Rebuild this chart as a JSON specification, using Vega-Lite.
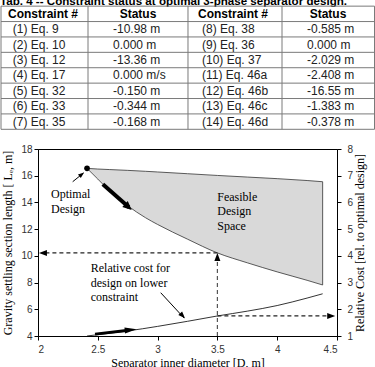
{
  "$schema": "https://vega.github.io/schema/vega-lite/v6.json",
  "width": 299,
  "height": 187,
  "autosize": {"type": "none"},
  "padding": {"left": 38, "top": 149, "right": 38, "bottom": 31},
  "background": "white",
  "config": {
    "view": {"stroke": "black", "strokeWidth": 1},
    "axis": {
      "grid": false,
      "domainColor": "black",
      "tickColor": "black",
      "tickSize": 4,
      "labelFont": "Liberation Sans",
      "labelFontSize": 10,
      "labelColor": "#333333",
      "titleFont": "Liberation Serif",
      "titleFontSize": 12,
      "titleFontWeight": "normal",
      "titleColor": "black"
    },
    "text": {"font": "Liberation Serif", "fontSize": 12, "color": "black"}
  },
  "datasets": {
    "region": [
      {"D": 2.41, "upper": 16.55, "lower": 16.55},
      {"D": 2.5, "upper": 16.5, "lower": 15.75},
      {"D": 2.6, "upper": 16.46, "lower": 14.85},
      {"D": 2.75, "upper": 16.4, "lower": 13.75},
      {"D": 2.9, "upper": 16.33, "lower": 12.85},
      {"D": 3.0, "upper": 16.28, "lower": 12.35},
      {"D": 3.25, "upper": 16.15, "lower": 11.25},
      {"D": 3.5, "upper": 16.02, "lower": 10.22},
      {"D": 3.75, "upper": 15.9, "lower": 9.48},
      {"D": 4.0, "upper": 15.78, "lower": 8.8},
      {"D": 4.25, "upper": 15.64, "lower": 8.17},
      {"D": 4.38, "upper": 15.55, "lower": 7.82}
    ],
    "cost": [
      {"D": 2.41, "cost": 1.0},
      {"D": 2.5, "cost": 1.05},
      {"D": 2.75, "cost": 1.19},
      {"D": 3.0, "cost": 1.36},
      {"D": 3.25, "cost": 1.55},
      {"D": 3.5, "cost": 1.75},
      {"D": 3.75, "cost": 1.93},
      {"D": 4.0, "cost": 2.14},
      {"D": 4.25, "cost": 2.42},
      {"D": 4.38, "cost": 2.58}
    ],
    "optimum": [{"D": 2.41, "L": 16.55}],
    "notes": [
      {"D": 2.109, "L": 14.61, "label": "Optimal"},
      {"D": 2.109, "L": 13.51, "label": "Design"},
      {"D": 3.499, "L": 14.43, "label": "Feasible"},
      {"D": 3.499, "L": 13.36, "label": "Design"},
      {"D": 3.499, "L": 12.26, "label": "Space"},
      {"D": 2.441, "L": 9.11, "label": "Relative cost for"},
      {"D": 2.441, "L": 7.99, "label": "design on lower"},
      {"D": 2.441, "L": 6.94, "label": "constraint"}
    ],
    "caption": [{"label": "Tab. 4 -- Constraint status at optimal 3-phase separator design."}],
    "header": [{"row": 0, "c1": "Constraint #", "s1": "Status", "c2": "Constraint #", "s2": "Status"}],
    "constraints": [
      {"row": 1, "c1": "(1) Eq. 9", "s1": "-10.98 m", "c2": "(8) Eq. 38", "s2": "-0.585 m"},
      {"row": 2, "c1": "(2) Eq. 10", "s1": "0.000 m", "c2": "(9) Eq. 36", "s2": "0.000 m"},
      {"row": 3, "c1": "(3) Eq. 12", "s1": "-13.36 m", "c2": "(10) Eq. 37", "s2": "-2.029 m"},
      {"row": 4, "c1": "(4) Eq. 17", "s1": "0.000 m/s", "c2": "(11) Eq. 46a", "s2": "-2.408 m"},
      {"row": 5, "c1": "(5) Eq. 32", "s1": "-0.150 m", "c2": "(12) Eq. 46b", "s2": "-16.55 m"},
      {"row": 6, "c1": "(6) Eq. 33", "s1": "-0.344 m", "c2": "(13) Eq. 46c", "s2": "-1.383 m"},
      {"row": 7, "c1": "(7) Eq. 35", "s1": "-0.168 m", "c2": "(14) Eq. 46d", "s2": "-0.378 m"}
    ]
  },
  "resolve": {"scale": {"x": "independent", "y": "independent"}},
  "layer": [
    {
      "resolve": {"scale": {"y": "independent"}},
      "layer": [
        {
          "layer": [
            {
              "data": {"name": "region"},
              "mark": {"type": "area", "interpolate": "monotone", "fill": "#d9d9d9", "stroke": "#333333", "strokeWidth": 0.8},
              "encoding": {
                "x": {
                  "field": "D", "type": "quantitative",
                  "scale": {"domain": [2, 4.5], "nice": false, "zero": false},
                  "axis": {"orient": "bottom", "values": [2, 2.5, 3, 3.5, 4, 4.5], "tickCount": 20, "format": "~g", "labelOverlap": false, "labelPadding": 4, "titlePadding": 3, "title": "Separator inner diameter [D, m]"}
                },
                "y": {
                  "field": "upper", "type": "quantitative",
                  "scale": {"domain": [4, 18], "nice": false, "zero": false},
                  "axis": {"orient": "left", "values": [4, 6, 8, 10, 12, 14, 16, 18], "tickCount": 20, "format": "~g", "labelOverlap": false, "labelPadding": 2, "titlePadding": 6, "title": "Gravity settling section length [ Lₑ, m]"}
                },
                "y2": {"field": "lower"}
              }
            },
            {
              "data": {"values": [{"D": 3.5, "D2": 2.06, "L": 10.22}]},
              "mark": {"type": "rule", "strokeDash": [4, 3], "color": "#222222", "strokeWidth": 1.2},
              "encoding": {
                "x": {"field": "D", "type": "quantitative"},
                "x2": {"field": "D2"},
                "y": {"field": "L", "type": "quantitative"}
              }
            },
            {
              "data": {"values": [{"D": 3.5, "L": 4, "L2": 9.75}]},
              "mark": {"type": "rule", "strokeDash": [4, 3], "color": "#555555", "strokeWidth": 1.2},
              "encoding": {
                "x": {"field": "D", "type": "quantitative"},
                "y": {"field": "L", "type": "quantitative"},
                "y2": {"field": "L2"}
              }
            },
            {
              "data": {"values": [{"D": 2.29, "L": 15.55, "D2": 2.38, "L2": 16.2}]},
              "mark": {"type": "rule", "color": "black", "strokeWidth": 1},
              "encoding": {
                "x": {"field": "D", "type": "quantitative"},
                "x2": {"field": "D2"},
                "y": {"field": "L", "type": "quantitative"},
                "y2": {"field": "L2"}
              }
            },
            {
              "data": {"values": [{"D": 2.542, "L": 15.357, "D2": 2.76, "L2": 13.64}]},
              "mark": {"type": "rule", "color": "black", "strokeWidth": 4},
              "encoding": {
                "x": {"field": "D", "type": "quantitative"},
                "x2": {"field": "D2"},
                "y": {"field": "L", "type": "quantitative"},
                "y2": {"field": "L2"}
              }
            },
            {
              "data": {"values": [{"D": 2.008, "L": 10.22}]},
              "mark": {"type": "point", "shape": "M0,0L0.75,2L-0.75,2Z", "angle": 270, "size": 64, "filled": true, "color": "black", "opacity": 1},
              "encoding": {"x": {"field": "D", "type": "quantitative"}, "y": {"field": "L", "type": "quantitative"}}
            },
            {
              "data": {"values": [{"D": 3.5, "L": 10.22}]},
              "mark": {"type": "point", "shape": "M0,0L0.75,2L-0.75,2Z", "angle": 0, "size": 64, "filled": true, "color": "black", "opacity": 1},
              "encoding": {"x": {"field": "D", "type": "quantitative"}, "y": {"field": "L", "type": "quantitative"}}
            },
            {
              "data": {"values": [{"D": 2.385, "L": 16.24}]},
              "mark": {"type": "point", "shape": "M0,0L0.75,2L-0.75,2Z", "angle": 51, "size": 36, "filled": true, "color": "black", "opacity": 1},
              "encoding": {"x": {"field": "D", "type": "quantitative"}, "y": {"field": "L", "type": "quantitative"}}
            },
            {
              "data": {"values": [{"D": 2.7835, "L": 13.433}]},
              "mark": {"type": "point", "shape": "M0,0L0.9,2L-0.9,2Z", "angle": 132, "size": 81, "filled": true, "color": "black", "opacity": 1},
              "encoding": {"x": {"field": "D", "type": "quantitative"}, "y": {"field": "L", "type": "quantitative"}}
            },
            {
              "data": {"name": "optimum"},
              "mark": {"type": "point", "shape": "circle", "size": 32, "filled": true, "color": "black", "opacity": 1},
              "encoding": {"x": {"field": "D", "type": "quantitative"}, "y": {"field": "L", "type": "quantitative"}}
            },
            {
              "data": {"name": "notes"},
              "mark": {"type": "text", "align": "left", "baseline": "middle", "font": "Liberation Serif", "fontSize": 12, "color": "black"},
              "encoding": {
                "x": {"field": "D", "type": "quantitative"},
                "y": {"field": "L", "type": "quantitative"},
                "text": {"field": "label"}
              }
            }
          ]
        },
        {
          "layer": [
            {
              "data": {"name": "cost"},
              "mark": {"type": "line", "interpolate": "monotone", "color": "black", "strokeWidth": 0.8},
              "encoding": {
                "x": {"field": "D", "type": "quantitative"},
                "y": {
                  "field": "cost", "type": "quantitative",
                  "scale": {"domain": [1, 8], "nice": false, "zero": false},
                  "axis": {"orient": "right", "values": [1, 2, 3, 4, 5, 6, 7, 8], "tickCount": 20, "format": "d", "labelOverlap": false, "labelPadding": 6, "titleAngle": 270, "titleBaseline": "top", "titlePadding": 2, "title": "Relative Cost  [rel. to optimal design]"}
                }
              }
            },
            {
              "data": {"values": [{"D": 3.5, "D2": 4.44, "cost": 1.75}]},
              "mark": {"type": "rule", "strokeDash": [4, 3], "color": "#222222", "strokeWidth": 1.2},
              "encoding": {
                "x": {"field": "D", "type": "quantitative"},
                "x2": {"field": "D2"},
                "y": {"field": "cost", "type": "quantitative"}
              }
            },
            {
              "data": {"values": [{"D": 2.477, "cost": 1.07, "D2": 2.74, "cost2": 1.21}]},
              "mark": {"type": "rule", "color": "black", "strokeWidth": 3},
              "encoding": {
                "x": {"field": "D", "type": "quantitative"},
                "x2": {"field": "D2"},
                "y": {"field": "cost", "type": "quantitative"},
                "y2": {"field": "cost2"}
              }
            },
            {
              "data": {"values": [{"D": 3.026, "cost": 2.62, "D2": 3.222, "cost2": 1.67}]},
              "mark": {"type": "rule", "color": "black", "strokeWidth": 1},
              "encoding": {
                "x": {"field": "D", "type": "quantitative"},
                "x2": {"field": "D2"},
                "y": {"field": "cost", "type": "quantitative"},
                "y2": {"field": "cost2"}
              }
            },
            {
              "data": {"values": [{"D": 4.485, "cost": 1.75}]},
              "mark": {"type": "point", "shape": "M0,0L0.75,2L-0.75,2Z", "angle": 90, "size": 64, "filled": true, "color": "black", "opacity": 1},
              "encoding": {"x": {"field": "D", "type": "quantitative"}, "y": {"field": "cost", "type": "quantitative"}}
            },
            {
              "data": {"values": [{"D": 2.825, "cost": 1.25}]},
              "mark": {"type": "point", "shape": "M0,0L0.5,2L-0.5,2Z", "angle": 84, "size": 144, "filled": true, "color": "black", "opacity": 1},
              "encoding": {"x": {"field": "D", "type": "quantitative"}, "y": {"field": "cost", "type": "quantitative"}}
            },
            {
              "data": {"values": [{"D": 3.229, "cost": 1.663}]},
              "mark": {"type": "point", "shape": "M0,0L0.75,2L-0.75,2Z", "angle": 137, "size": 49, "filled": true, "color": "black", "opacity": 1},
              "encoding": {"x": {"field": "D", "type": "quantitative"}, "y": {"field": "cost", "type": "quantitative"}}
            }
          ]
        }
      ]
    },
    {
      "layer": [
        {
          "data": {"name": "caption"},
          "mark": {"type": "text", "align": "left", "baseline": "alphabetic", "dy": -1, "font": "Liberation Sans", "fontSize": 11.6, "fontWeight": "bold", "color": "black"},
          "encoding": {
            "x": {"datum": 0, "type": "quantitative", "scale": {"domain": [0, 100], "range": [-38, 337], "nice": false, "zero": false}, "axis": null},
            "y": {"datum": -0.5, "type": "quantitative", "scale": {"domain": [-0.9, 8], "range": [-149, -12], "nice": false, "zero": false}, "axis": null},
            "text": {"field": "label"}
          }
        },
        {
          "data": {"name": "header"},
          "mark": {"type": "rule", "color": "#7a7a7a", "strokeWidth": 1, "yOffset": -7.7},
          "encoding": {
            "x": {"datum": 0.27, "type": "quantitative", "axis": null},
            "x2": {"datum": 99.87},
            "y": {"field": "row", "type": "quantitative", "axis": null}
          }
        },
        {
          "data": {"name": "header"},
          "mark": {"type": "rule", "color": "#7a7a7a", "strokeWidth": 1, "yOffset": 7.7},
          "encoding": {
            "x": {"datum": 0.27, "type": "quantitative", "axis": null},
            "x2": {"datum": 99.87},
            "y": {"field": "row", "type": "quantitative", "axis": null}
          }
        },
        {
          "data": {"name": "constraints"},
          "mark": {"type": "rule", "color": "#7a7a7a", "strokeWidth": 1, "yOffset": 7.7},
          "encoding": {
            "x": {"datum": 0.27, "type": "quantitative", "axis": null},
            "x2": {"datum": 99.87},
            "y": {"field": "row", "type": "quantitative", "axis": null}
          }
        },
        {
          "data": {"values": [{}]},
          "mark": {"type": "rule", "color": "#7a7a7a", "strokeWidth": 1},
          "encoding": {
            "x": {"datum": 0.27, "type": "quantitative", "axis": null},
            "y": {"datum": -0.5, "type": "quantitative", "axis": null},
            "y2": {"datum": 7.5}
          }
        },
        {
          "data": {"values": [{}]},
          "mark": {"type": "rule", "color": "#7a7a7a", "strokeWidth": 1},
          "encoding": {
            "x": {"datum": 23.47, "type": "quantitative", "axis": null},
            "y": {"datum": -0.5, "type": "quantitative", "axis": null},
            "y2": {"datum": 7.5}
          }
        },
        {
          "data": {"values": [{}]},
          "mark": {"type": "rule", "color": "#7a7a7a", "strokeWidth": 1},
          "encoding": {
            "x": {"datum": 50.13, "type": "quantitative", "axis": null},
            "y": {"datum": -0.5, "type": "quantitative", "axis": null},
            "y2": {"datum": 7.5}
          }
        },
        {
          "data": {"values": [{}]},
          "mark": {"type": "rule", "color": "#7a7a7a", "strokeWidth": 1},
          "encoding": {
            "x": {"datum": 75.2, "type": "quantitative", "axis": null},
            "y": {"datum": -0.5, "type": "quantitative", "axis": null},
            "y2": {"datum": 7.5}
          }
        },
        {
          "data": {"values": [{}]},
          "mark": {"type": "rule", "color": "#7a7a7a", "strokeWidth": 1},
          "encoding": {
            "x": {"datum": 99.87, "type": "quantitative", "axis": null},
            "y": {"datum": -0.5, "type": "quantitative", "axis": null},
            "y2": {"datum": 7.5}
          }
        },
        {
          "data": {"name": "header"},
          "mark": {"type": "text", "align": "center", "baseline": "middle", "font": "Liberation Sans", "fontSize": 12, "fontWeight": "bold", "color": "black"},
          "encoding": {
            "x": {"datum": 11.47, "type": "quantitative", "axis": null},
            "y": {"field": "row", "type": "quantitative", "axis": null},
            "text": {"field": "c1"}
          }
        },
        {
          "data": {"name": "header"},
          "mark": {"type": "text", "align": "center", "baseline": "middle", "font": "Liberation Sans", "fontSize": 12, "fontWeight": "bold", "color": "black"},
          "encoding": {
            "x": {"datum": 36.8, "type": "quantitative", "axis": null},
            "y": {"field": "row", "type": "quantitative", "axis": null},
            "text": {"field": "s1"}
          }
        },
        {
          "data": {"name": "header"},
          "mark": {"type": "text", "align": "center", "baseline": "middle", "font": "Liberation Sans", "fontSize": 12, "fontWeight": "bold", "color": "black"},
          "encoding": {
            "x": {"datum": 62.13, "type": "quantitative", "axis": null},
            "y": {"field": "row", "type": "quantitative", "axis": null},
            "text": {"field": "c2"}
          }
        },
        {
          "data": {"name": "header"},
          "mark": {"type": "text", "align": "center", "baseline": "middle", "font": "Liberation Sans", "fontSize": 12, "fontWeight": "bold", "color": "black"},
          "encoding": {
            "x": {"datum": 87.47, "type": "quantitative", "axis": null},
            "y": {"field": "row", "type": "quantitative", "axis": null},
            "text": {"field": "s2"}
          }
        },
        {
          "data": {"name": "constraints"},
          "mark": {"type": "text", "align": "left", "baseline": "middle", "font": "Liberation Sans", "fontSize": 12, "color": "#222222"},
          "encoding": {
            "x": {"datum": 3.39, "type": "quantitative", "axis": null},
            "y": {"field": "row", "type": "quantitative", "axis": null},
            "text": {"field": "c1"}
          }
        },
        {
          "data": {"name": "constraints"},
          "mark": {"type": "text", "align": "left", "baseline": "middle", "font": "Liberation Sans", "fontSize": 12, "color": "#222222"},
          "encoding": {
            "x": {"datum": 30.13, "type": "quantitative", "axis": null},
            "y": {"field": "row", "type": "quantitative", "axis": null},
            "text": {"field": "s1"}
          }
        },
        {
          "data": {"name": "constraints"},
          "mark": {"type": "text", "align": "left", "baseline": "middle", "font": "Liberation Sans", "fontSize": 12, "color": "#222222"},
          "encoding": {
            "x": {"datum": 53.87, "type": "quantitative", "axis": null},
            "y": {"field": "row", "type": "quantitative", "axis": null},
            "text": {"field": "c2"}
          }
        },
        {
          "data": {"name": "constraints"},
          "mark": {"type": "text", "align": "left", "baseline": "middle", "font": "Liberation Sans", "fontSize": 12, "color": "#222222"},
          "encoding": {
            "x": {"datum": 81.87, "type": "quantitative", "axis": null},
            "y": {"field": "row", "type": "quantitative", "axis": null},
            "text": {"field": "s2"}
          }
        }
      ]
    }
  ]
}
